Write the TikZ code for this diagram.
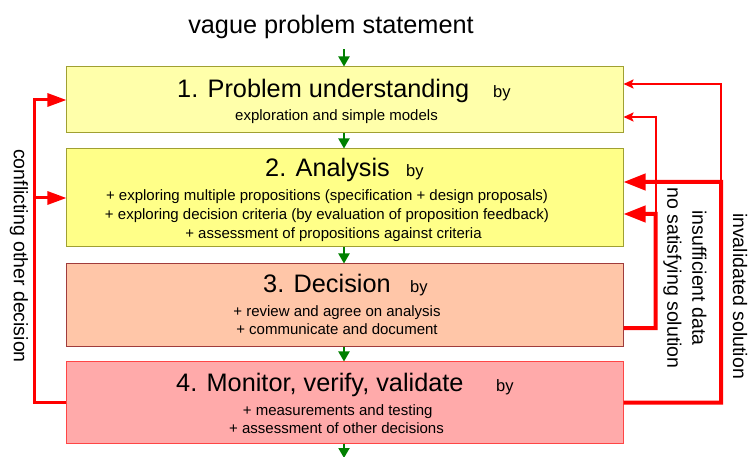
\documentclass[tikz,border=0pt]{standalone}
\usepackage{fontspec}
\setmainfont{Liberation Sans}
\usetikzlibrary{arrows.meta}
\definecolor{fillA}{RGB}{255,255,170}
\definecolor{fillB}{RGB}{255,255,136}
\definecolor{fillC}{RGB}{255,198,168}
\definecolor{fillD}{RGB}{255,170,170}
\definecolor{edgeA}{RGB}{160,160,50}
\definecolor{edgeC}{RGB}{160,60,60}
\definecolor{edgeD}{RGB}{255,70,70}
\definecolor{garrow}{RGB}{0,128,0}
\definecolor{rline}{RGB}{255,0,0}
\begin{document}
\begin{tikzpicture}[x=1bp,y=-1bp,
  boxbase/.style={rectangle, line width=1bp, minimum width=556bp, inner sep=0pt},
  boxA/.style={boxbase, draw=edgeA, fill=fillA},
  boxB/.style={boxbase, draw=edgeA, fill=fillB},
  boxC/.style={boxbase, draw=edgeC, fill=fillC},
  boxD/.style={boxbase, draw=edgeD, fill=fillD},
  ttl/.style={inner sep=0pt, font=\fontsize{25.3bp}{30bp}\selectfont},
  byword/.style={inner sep=0pt, font=\fontsize{16.5bp}{20bp}\selectfont},
  body/.style={inner sep=0pt, anchor=base, font=\fontsize{15bp}{19bp}\selectfont},
  sidelabel/.style={inner sep=0pt, rotate=-90, align=center, font=\fontsize{19.5bp}{25bp}\selectfont},
  garr/.style={draw=garrow, line width=2bp, -{Triangle[length=10bp,width=11bp]}},
  thinred/.style={draw=rline, line width=2bp, -{Stealth[length=10bp,width=9bp,inset=2bp]}},
  thickred/.style={draw=rline, line width=4bp, -{Triangle[length=22bp,width=16bp]}},
  medred/.style={draw=rline, line width=3bp},
  medredarr/.style={draw=rline, line width=3bp, -{Triangle[length=19bp,width=13bp]}}
]
\useasboundingbox (0,0) rectangle (751,457);

% title
\node[ttl, anchor=base] (vps) at (331,33.3) {vague problem statement};

% boxes
\node[boxA, minimum height=66bp] (b1) at (345,100) {};
\node[boxB, minimum height=98bp] (b2) at (345,198) {};
\node[boxC, minimum height=82bp] (b3) at (345,305) {};
\node[boxD, minimum height=81bp] (b4) at (345,402.5) {};

% box 1 texts
\node[ttl, anchor=base west] (t1) at (177,98) {1. Problem understanding};
\node[byword, anchor=base west] (by1) at (493,98) {by};
\node[body] (s1) at (336.5,121) {exploration and simple models};

% box 2 texts
\node[ttl, anchor=base west] (t2) at (265,177) {2. Analysis};
\node[byword, anchor=base west] (by2) at (406,177) {by};
\node[body] (s21) at (327,201) {+ exploring multiple propositions (specification + design proposals)};
\node[body] (s22) at (327,220) {+ exploring decision criteria (by evaluation of proposition feedback)};
\node[body] (s23) at (333.5,239) {+ assessment of propositions against criteria};

% box 3 texts
\node[ttl, anchor=base west] (t3) at (263,293) {3. Decision};
\node[byword, anchor=base west] (by3) at (410,293) {by};
\node[body] (s31) at (337,317) {+ review and agree on analysis};
\node[body] (s32) at (337,335) {+ communicate and document};

% box 4 texts
\node[ttl, anchor=base west] (t4) at (176,391) {4. Monitor, verify, validate};
\node[byword, anchor=base west] (by4) at (496,391) {by};
\node[body] (s41) at (337.7,415) {+ measurements and testing};
\node[body] (s42) at (336.5,433) {+ assessment of other decisions};

% green flow arrows
\draw[garr] ([xshift=-1bp,yshift=17bp]b1.north) -- ([xshift=-1bp]b1.north);
\draw[garr] ([xshift=-1bp]b1.south) -- ([xshift=-1bp]b2.north);
\draw[garr] ([xshift=-1bp]b2.south) -- ([xshift=-1bp]b3.north);
\draw[garr] ([xshift=-1bp]b3.south) -- ([xshift=-1bp]b4.north);
\coordinate (out) at (344,458);
\draw[garr] ([xshift=-1bp]b4.south) -- (out);

% right feedback loops
\coordinate (ro) at (721,182);
\coordinate (ri) at (655.5,214);
\draw[thickred] (b4.east) -| (ro) -- ([yshift=16bp]b2.east);
\draw[thinred] (ro) |- ([yshift=16bp]b1.east);
\draw[thickred] ([yshift=-23bp]b3.east) -| (ri) -- ([yshift=-16bp]b2.east);
\draw[thinred] (ri) |- ([yshift=-17bp]b1.east);

% left feedback loop
\coordinate (lc) at (34,198);
\draw[medred] (b4.west) -| (lc);
\draw[medredarr] (lc) |- (b1.west);
\draw[medredarr] (lc) -- (b2.west);

% side labels
\node[sidelabel] (lbl1) at (685,278) {insufficient data\\no satisfying solution};
\node[sidelabel] (lbl2) at (740,296) {invalidated solution};
\node[sidelabel] (lbl3) at (19,256) {conflicting other decision};
\end{tikzpicture}
\end{document}
